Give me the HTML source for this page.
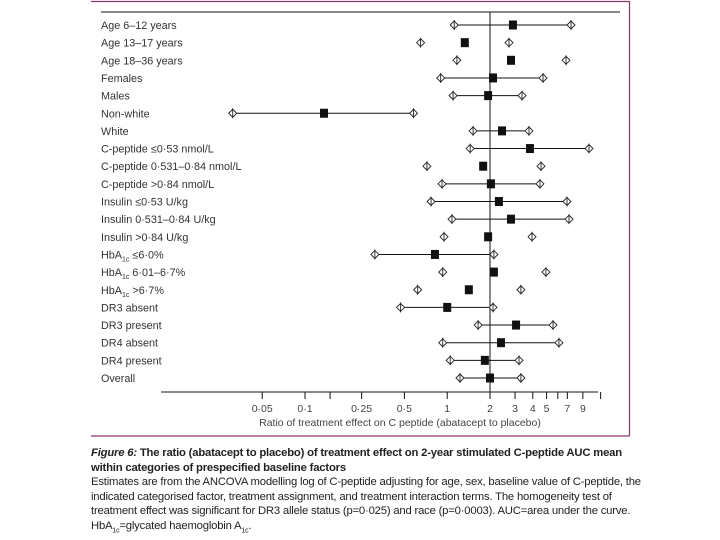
<!DOCTYPE html>
<html><head><meta charset="utf-8"><style>
body{margin:0;background:#fff;width:720px;height:540px;overflow:hidden;font-family:"Liberation Sans",sans-serif}
#cap{position:absolute;left:91px;top:446px;width:560px;font-size:11.3px;line-height:14.5px;color:#222;letter-spacing:-0.2px}
</style></head><body>
<svg id="chart" width="720" height="540" style="position:absolute;left:0;top:0">
<line x1="91" y1="1.5" x2="629.5" y2="1.5" stroke="#8a3a6a" stroke-width="1.2"/>
<line x1="629.5" y1="1" x2="629.5" y2="436" stroke="#8a3a6a" stroke-width="1.2"/>
<line x1="91" y1="436" x2="629.5" y2="436" stroke="#8a3a6a" stroke-width="1.2"/>
<line x1="101" y1="12" x2="620" y2="12" stroke="#111" stroke-width="1"/>
<g id="g"></g>
</svg>
<div id="cap"><b><i>Figure 6:</i> The ratio (abatacept to placebo) of treatment effect on 2-year stimulated C-peptide AUC mean within categories of prespecified baseline factors</b><br>Estimates are from the ANCOVA modelling log of C-peptide adjusting for age, sex, baseline value of C-peptide, the indicated categorised factor, treatment assignment, and treatment interaction terms. The homogeneity test of treatment effect was significant for DR3 allele status (p=0·025) and race (p=0·0003). AUC=area under the curve. HbA<sub style="font-size:7px">1c</sub>=glycated haemoglobin A<sub style="font-size:7px">1c</sub>.</div>
<script>
const categories=["Age 6–12 years","Age 13–17 years","Age 18–36 years","Females","Males","Non-white","White","C-peptide ≤0·53 nmol/L","C-peptide 0·531–0·84 nmol/L","C-peptide >0·84 nmol/L","Insulin ≤0·53 U/kg","Insulin 0·531–0·84 U/kg","Insulin >0·84 U/kg","HbA1c ≤6·0%","HbA1c 6·01–6·7%","HbA1c >6·7%","DR3 absent","DR3 present","DR4 absent","DR4 present","Overall"];
const estimates=[2.90,1.33,2.81,2.10,1.94,0.136,2.43,3.82,1.79,2.03,2.31,2.81,1.94,0.82,2.13,1.42,1.00,3.05,2.39,1.84,2.00];
const lower=[1.12,0.65,1.17,0.90,1.10,0.031,1.52,1.45,0.72,0.92,0.77,1.08,0.95,0.31,0.93,0.62,0.47,1.65,0.93,1.05,1.23];
const upper=[7.43,2.72,6.85,4.72,3.36,0.58,3.76,9.94,4.57,4.49,6.96,7.19,3.95,2.13,4.95,3.30,2.10,5.55,6.11,3.20,3.30];
const showLine=[1,0,0,1,1,1,1,1,0,1,1,1,0,1,0,0,1,1,1,1,1];
const tickValues=[0.05,0.1,0.15,0.25,0.5,1,2,3,4,5,6,7,9,12];
const tickLabels=["0·05","0·1","","0·25","0·5","1","2","3","4","5","","7","9",""];
const NS="http://www.w3.org/2000/svg";
const g=document.getElementById('g');
function X(v){return 490+42.8*Math.log2(v/2);}
function Y(i){return 25+i*17.65;}
function mk(t,a,p){const e=document.createElementNS(NS,t);for(const k in a)e.setAttribute(k,a[k]);(p||g).appendChild(e);return e;}
const axY=392;
let e=mk('line',{x1:161,y1:axY,x2:598,y2:axY,stroke:'#111','stroke-width':1});


e=mk('line',{x1:X(2),y1:12,x2:X(2),y2:axY,stroke:'#111','stroke-width':1});


tickValues.forEach((v,i)=>{
 let t=mk('line',{x1:X(v),y1:axY,x2:X(v),y2:axY+7,stroke:'#111','stroke-width':1});
 
 
 if(tickLabels[i]){let l=mk('text',{x:X(v),y:axY+20,'text-anchor':'middle','font-size':'10.5','fill':'#444'});l.textContent=tickLabels[i];
 
 }
});
let at=mk('text',{x:400,y:axY+34,'text-anchor':'middle','font-size':'10.5','fill':'#444'});
at.textContent='Ratio of treatment effect on C peptide (abatacept to placebo)';


function marker(x,y){
 const gg=mk('g',{});
 
 
 mk('path',{d:`M${x-4},${y} L${x},${y-4} L${x+4},${y} L${x},${y+4} Z`,fill:'#fff',stroke:'#222','stroke-width':0.9},gg);
 mk('line',{x1:x,y1:y-5,x2:x,y2:y+5,stroke:'#222','stroke-width':0.9},gg);
}
categories.forEach((c,i)=>{
 const y=Y(i);
 let t=mk('text',{x:101,y:y+4,'font-size':'10.8','fill':'#333'});
 if(c.indexOf('HbA1c')===0){
  t.appendChild(document.createTextNode('HbA'));
  const s=mk('tspan',{'font-size':'7',dy:'3'},t);s.textContent='1c';
  const r=mk('tspan',{dy:'-3'},t);r.textContent=c.slice(5);
 } else t.textContent=c;
 
 
 if(showLine[i]){let l=mk('line',{x1:X(lower[i]),y1:y,x2:X(upper[i]),y2:y,stroke:'#111','stroke-width':1});
 
 }
 marker(X(lower[i]),y);marker(X(upper[i]),y);
 let s=mk('rect',{x:X(estimates[i])-4,y:y-4.5,width:8,height:9,fill:'#111'});
 
 
});
</script>
</body></html>
